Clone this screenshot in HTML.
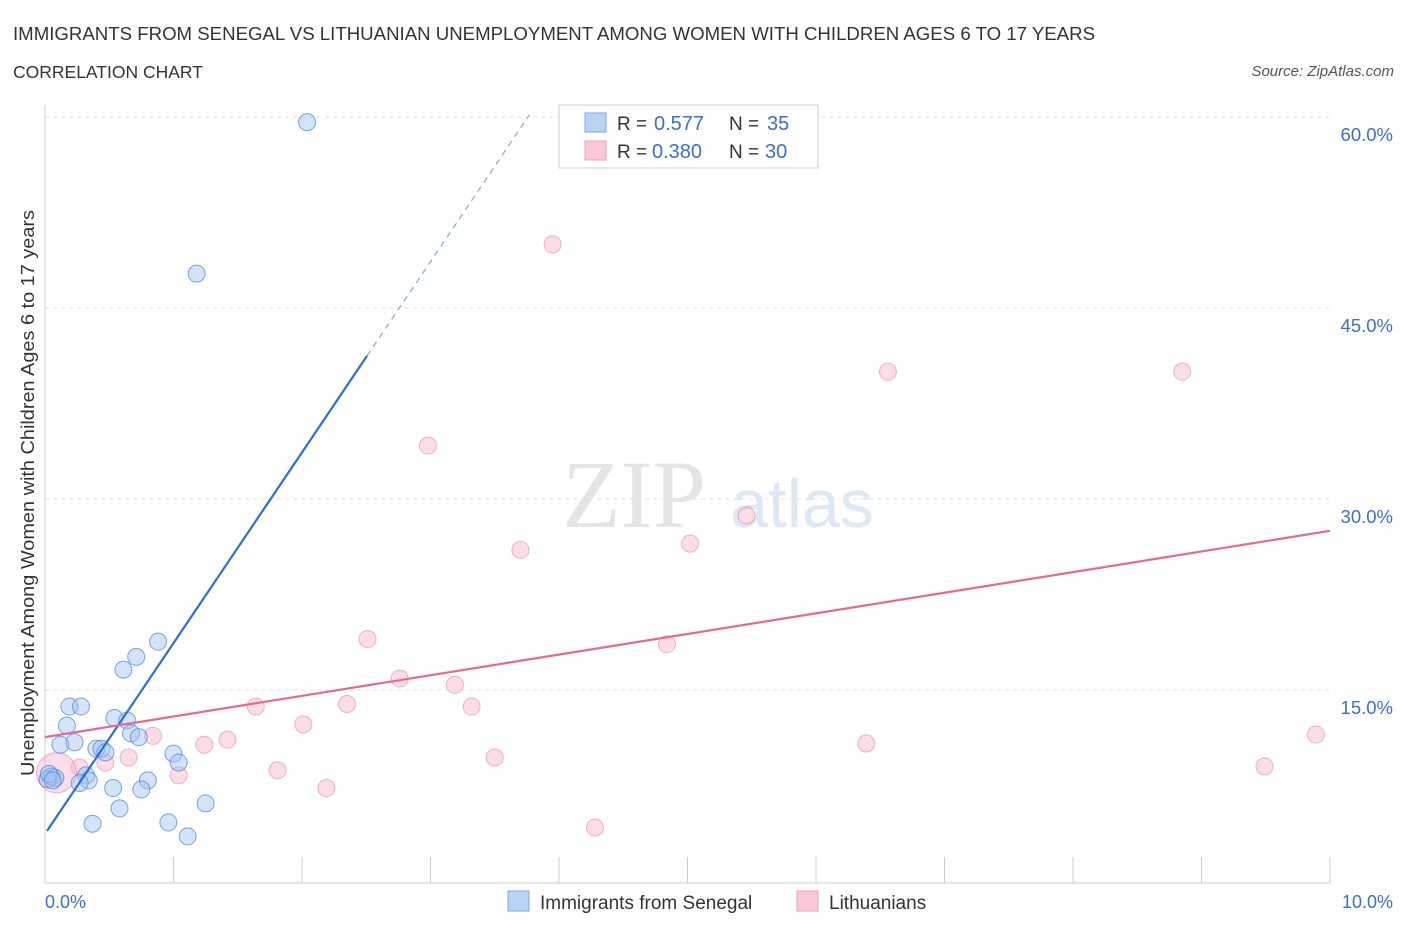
<!DOCTYPE html>
<html><head><meta charset="utf-8"><style>
body{margin:0;background:#fff;font-family:"Liberation Sans",sans-serif;}
</style></head><body>
<svg width="1406" height="930" xmlns="http://www.w3.org/2000/svg" font-family="Liberation Sans, sans-serif">
<text x="13" y="40" font-size="18.5" fill="#333" textLength="1082" lengthAdjust="spacingAndGlyphs">IMMIGRANTS FROM SENEGAL VS LITHUANIAN UNEMPLOYMENT AMONG WOMEN WITH CHILDREN AGES 6 TO 17 YEARS</text>
<text x="13" y="78" font-size="17.5" fill="#333">CORRELATION CHART</text>
<text x="1394" y="76" font-size="15" fill="#555" font-style="italic" text-anchor="end">Source: ZipAtlas.com</text>
<text x="634" y="527" font-size="96" fill="#e4e4e4" font-family="Liberation Serif, serif" text-anchor="middle">ZIP</text>
<text x="802" y="527" font-size="68" fill="#dce8f5" text-anchor="middle">atlas</text>
<g id="grid"></g>
<line x1="45" y1="105" x2="45" y2="883" stroke="#ccc"/>
<line x1="45" y1="883" x2="1330" y2="883" stroke="#ccc"/>
<g id="ticks"></g>
<text x="34" y="493" font-size="18.5" fill="#333" text-anchor="middle" transform="rotate(-90 34 493)" textLength="566" lengthAdjust="spacingAndGlyphs">Unemployment Among Women with Children Ages 6 to 17 years</text>
<text x="45" y="908" font-size="18" fill="#3a6fd0">0.0%</text>
<text x="1393" y="908" font-size="18" fill="#3a6fd0" text-anchor="end">10.0%</text>
<g id="pts"></g>
<g id="lines"></g>
<g>
<rect x="559" y="105" width="259" height="63" fill="#fff" stroke="#ccc"/>
<rect x="585" y="113" width="21" height="19" fill="#b9d3f5" stroke="#7aa7e6"/>
<text x="617" y="130" font-size="19" fill="#333">R =</text>
<text x="654" y="130" font-size="20" fill="#3a6fd0">0.577</text>
<text x="729" y="130" font-size="19" fill="#333">N =</text>
<text x="767" y="130" font-size="20" fill="#3a6fd0">35</text>
<rect x="585" y="141" width="21" height="19" fill="#f9c9d7" stroke="#eea0b8"/>
<text x="617" y="158" font-size="19" fill="#333">R =</text>
<text x="652" y="158" font-size="20" fill="#3a6fd0">0.380</text>
<text x="729" y="158" font-size="19" fill="#333">N =</text>
<text x="765" y="158" font-size="20" fill="#3a6fd0">30</text>
</g>
<g>
<rect x="508" y="891" width="21" height="20" fill="#b9d3f5" stroke="#7aa7e6"/>
<text x="540" y="909" font-size="19" fill="#333">Immigrants from Senegal</text>
<rect x="797" y="891" width="21" height="20" fill="#f9c9d7" stroke="#eea0b8"/>
<text x="829" y="909" font-size="19" fill="#333">Lithuanians</text>
</g>
</svg>
<script>
const yTicks=[15,30,45,60];
const yTickLabels=["15.0%","30.0%","45.0%","60.0%"];
const xTicks=[1,2,3,4,5,6,7,8,9,10];
const blueX=[2.04,1.18,0.88,0.71,0.61,0.19,0.28,0.17,0.54,0.64,0.67,0.73,0.12,0.23,0.40,0.44,0.47,1.00,1.04,0.05,0.08,0.32,0.34,0.27,0.80,0.53,0.75,1.25,0.58,0.37,0.96,1.11,0.02,0.03,0.06];
const blueY=[59.6,47.7,18.8,17.6,16.6,13.7,13.7,12.2,12.8,12.6,11.6,11.3,10.7,10.9,10.4,10.4,10.1,10.0,9.3,8.2,8.1,8.3,7.9,7.7,7.9,7.3,7.2,6.1,5.7,4.5,4.6,3.5,8.0,8.4,7.9];
const pinkX=[3.95,6.56,8.85,2.98,5.46,5.02,3.70,2.51,4.84,2.76,3.19,2.35,1.64,3.32,2.01,0.84,1.42,1.24,6.39,9.89,0.65,3.50,0.47,1.81,1.04,9.49,2.19,4.28,0.27,0.09];
const pinkY=[50.0,40.0,40.0,34.2,28.7,26.5,26.0,19.0,18.6,15.9,15.4,13.9,13.7,13.7,12.3,11.4,11.1,10.7,10.8,11.5,9.7,9.7,9.3,8.7,8.3,9.0,7.3,4.2,8.9,8.5];
const blueLine=[3.7,14.98];
const pinkLine=[11.3,1.62];
const xs=v=>45+128.5*v, ys=v=>881-12.733*v;
const NS="http://www.w3.org/2000/svg";
function mk(t,a,p){const e=document.createElementNS(NS,t);for(const k in a)e.setAttribute(k,a[k]);p.appendChild(e);return e;}
const grid=document.getElementById('grid'),ticks=document.getElementById('ticks'),pts=document.getElementById('pts'),lines=document.getElementById('lines');
yTicks.forEach((v,i)=>{const l=mk('line',{x1:45,x2:1330,y1:ys(v),y2:ys(v),stroke:'#e2e2e2','stroke-dasharray':'4,4'},grid);


const t=mk('text',{x:1393,y:ys(v)+24,'font-size':18.5,fill:'#3a6fd0','text-anchor':'end'},grid);t.textContent=yTickLabels[i];

});
xTicks.forEach(v=>{const l=mk('line',{x1:xs(v),x2:xs(v),y1:857,y2:883,stroke:'#ccc'},ticks);

});
pinkX.forEach((x,i)=>{const c=mk('circle',{cx:xs(x),cy:ys(pinkY[i]),r:i==pinkX.length-1?20:8.5,fill:'rgba(245,170,195,0.4)',stroke:'rgba(235,130,165,0.6)'},pts);

});
blueX.forEach((x,i)=>{const c=mk('circle',{cx:xs(x),cy:ys(blueY[i]),r:8.5,fill:'rgba(160,195,240,0.45)',stroke:'rgba(70,130,220,0.7)'},pts);

});
const bl=mk('line',{x1:xs(0.016),y1:ys(blueLine[0]+blueLine[1]*0.016),x2:xs(2.506),y2:ys(blueLine[0]+blueLine[1]*2.506),stroke:'#2a6fd6','stroke-width':2.2},lines);


const bd=mk('line',{x1:xs(2.506),y1:ys(blueLine[0]+blueLine[1]*2.506),x2:xs(3.77),y2:ys(blueLine[0]+blueLine[1]*3.77),stroke:'#7aa7e6','stroke-width':1.2,'stroke-dasharray':'6,5'},lines);


const pl=mk('line',{x1:xs(0),y1:ys(pinkLine[0]),x2:xs(10),y2:ys(pinkLine[0]+pinkLine[1]*10),stroke:'#e8679a','stroke-width':2.2},lines);


</script>
</body></html>
